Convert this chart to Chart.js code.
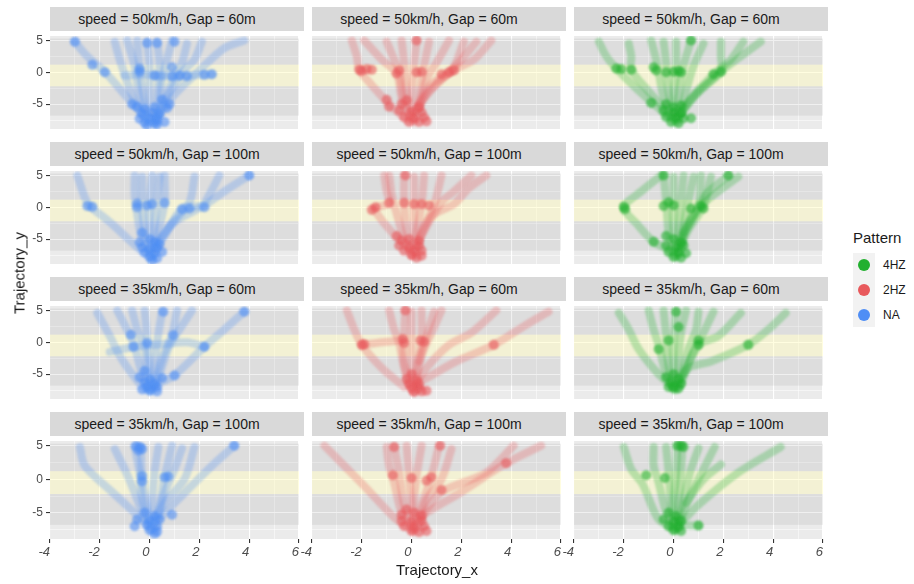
<!DOCTYPE html>
<html>
<head>
<meta charset="utf-8">
<script src="https://cdn.jsdelivr.net/npm/chart.js@4.4.1/dist/chart.umd.min.js"></script>
<style>
body { margin: 0; background: #fff; width: 914px; height: 584px; position: relative; overflow: hidden; font-family: 'Liberation Sans', Arial, sans-serif; }
canvas { position: absolute; }
.strip { position: absolute; height: 24px; background: #d9d9d9; color: #1a1a1a; font-size: 14px; line-height: 24px; text-align: center; box-sizing: border-box; padding-right: 20px; white-space: nowrap; }
.title { position: absolute; color: #1a1a1a; font-size: 15px; white-space: nowrap; }
.key { position: absolute; left: 853px; width: 22px; background: #f2f2f2; }
.dot { position: absolute; left: 5px; width: 12px; height: 12px; border-radius: 6px; }
.klab { position: absolute; left: 883px; font-size: 12px; color: #1a1a1a; }
</style>
</head>
<body>
<script>
// facets
const speeds = ['50km/h', '50km/h', '35km/h', '35km/h'];
const gaps = ['60m', '100m', '60m', '100m'];
const patterns = ['NA', '2HZ', '4HZ'];
const legendOrder = ['4HZ', '2HZ', 'NA'];

// axes
const xTickLabels = [-4, -2, 0, 2, 4, 6];
const xMinor = [-3, -1, 1, 3, 5];
const yTickLabels = [-5, 0, 5];
const yMinor = [-7.5, -2.5, 2.5];
const laneEdges = [5.3, 1.2, -2.2, -6.8];

// trajectories, [x, y] per vertex
const tracksNA_50_60 = [
  [[-3.0, 4.8], [-2.5, 2.5], [-1.8, 0.1], [-1.0, -3.5], [-0.3, -6.5], [0.0, -7.8]],
  [[-1.4, 4.8], [-1.2, 2.0], [-0.9, -1.5], [-0.5, -5.5], [-0.1, -7.5]],
  [[-0.9, 5.0], [-0.6, 1.0], [-0.4, -4.0], [-0.1, -7.2]],
  [[-0.5, 5.0], [-0.4, 0.5], [-0.2, -5.0], [0.0, -7.8]],
  [[-0.1, 4.8], [0.0, 0.6], [0.0, -5.0], [0.2, -7.6]],
  [[0.3, 4.8], [0.4, 1.0], [0.3, -4.5], [0.3, -7.8]],
  [[0.9, 5.0], [0.7, 2.0], [0.5, -1.0], [0.4, -5.5], [0.2, -7.5]],
  [[1.5, 4.5], [1.3, 1.5], [1.0, -0.5], [0.6, -4.5], [0.3, -7.0]],
  [[2.1, 4.8], [1.8, 2.0], [1.3, 0.0], [0.7, -4.0], [0.3, -7.2]],
  [[3.8, 5.0], [3.0, 3.8], [2.0, 0.3], [1.0, -3.5], [0.4, -6.5]],
  [[0.3, -0.5], [1.2, -0.6], [2.0, -0.4], [2.5, -0.3]],
  [[-1.0, -0.5], [-0.2, -0.4], [0.5, -0.6]]
];
const dotsNA_50_60 = [[-3.0, 4.8], [-1.8, 0.0], [-2.3, 1.2], [-0.4, 0.6], [-0.4, 0.1], [-0.1, 4.6], [0.3, 4.6], [1.0, 4.8], [0.9, 0.8], [0.9, -0.6], [1.2, -0.5], [1.5, -0.6], [2.2, -0.4], [2.5, -0.3], [0.2, -0.5], [-0.7, -5.0], [0.5, -4.3], [0.8, -5.0], [0.7, -5.6], [-0.5, -5.4], [-0.2, -5.8], [0.2, -5.5], [-0.3, -6.5], [0.1, -6.4], [0.4, -6.6], [-0.4, -7.3], [0.0, -7.2], [0.3, -7.4], [-0.2, -7.9], [0.2, -8.0], [0.6, -7.8], [-0.1, -8.3], [0.3, -8.2]];

const tracks2HZ_50_60 = [
  [[-2.4, 5.0], [-2.2, 2.5], [-2.1, 0.4], [-1.6, -2.0], [-0.9, -5.0], [-0.2, -7.5]],
  [[-1.9, 5.0], [-1.2, 2.0], [-0.6, -0.2], [-0.4, -4.0], [-0.1, -7.0]],
  [[-1.0, 4.8], [-0.7, 2.0], [-0.5, 0.2], [-0.3, -4.5], [0.0, -7.5]],
  [[-0.4, 5.0], [-0.3, 1.5], [-0.2, -3.0], [0.0, -7.0]],
  [[0.2, 5.0], [0.1, 1.0], [0.0, -4.0], [0.1, -7.8]],
  [[0.7, 4.8], [0.5, 1.0], [0.3, -4.0], [0.2, -7.3]],
  [[1.5, 5.0], [1.0, 1.5], [0.6, -1.0], [0.3, -5.5]],
  [[2.1, 4.8], [1.6, 0.2], [0.8, -1.8], [0.3, -5.0]],
  [[2.6, 4.8], [2.0, 2.0], [1.5, 0.0], [0.7, -3.0], [0.2, -6.0]],
  [[3.2, 5.0], [2.5, 2.0], [1.5, -0.1], [0.5, -4.0], [0.1, -6.5]]
];
const dots2HZ_50_60 = [[-2.1, 0.4], [-2.0, 0.2], [-1.8, 0.5], [-1.6, 0.4], [-0.6, -0.2], [-0.5, 0.3], [0.2, 0.0], [0.4, 0.1], [1.2, -0.3], [1.5, 0.0], [1.7, 0.3], [0.2, 5.0], [-1.0, -4.3], [-0.9, -5.4], [-0.4, -5.0], [-0.2, -4.4], [0.3, -5.5], [-0.5, -6.0], [0.0, -6.2], [0.4, -6.3], [-0.3, -7.0], [0.1, -7.2], [0.5, -7.1], [-0.1, -7.8], [0.3, -7.8], [0.6, -7.7]];

const tracks4HZ_50_60 = [
  [[-3.0, 4.8], [-2.7, 2.5], [-2.3, 0.6], [-1.5, -2.5], [-0.5, -6.0], [0.0, -7.5]],
  [[-1.8, 4.5], [-1.7, 2.5], [-1.7, 0.4], [-1.0, -3.0], [-0.2, -6.5]],
  [[-0.9, 5.0], [-0.7, 2.0], [-0.6, 0.0], [-0.4, -4.0], [-0.1, -7.0]],
  [[-0.4, 4.8], [-0.3, 1.5], [-0.2, -3.0], [0.0, -7.2]],
  [[0.1, 4.8], [0.1, 1.0], [0.0, -4.0], [0.1, -7.8]],
  [[0.7, 5.0], [0.4, 1.0], [0.2, -4.0], [0.2, -7.5]],
  [[1.2, 4.5], [0.8, 1.0], [0.5, -3.0], [0.3, -6.5]],
  [[1.9, 4.8], [1.9, 2.5], [1.9, 0.1], [1.0, -3.0], [0.3, -6.5]],
  [[2.8, 4.8], [2.3, 2.0], [1.7, 0.0], [0.7, -4.0], [0.2, -7.0]],
  [[3.5, 4.8], [2.7, 2.5], [1.9, 0.1], [0.9, -3.5], [0.3, -6.0]]
];
const dots4HZ_50_60 = [[-2.3, 0.6], [-2.1, 0.5], [-1.7, 0.4], [-0.8, 0.8], [-0.7, 0.3], [-0.3, 0.0], [0.0, 0.1], [0.2, 0.2], [0.3, 0.0], [1.6, -0.3], [1.9, 0.1], [0.7, 5.0], [-0.9, -4.8], [-0.3, -5.0], [0.0, -5.5], [0.3, -5.2], [-0.4, -6.0], [0.0, -6.3], [0.3, -6.4], [-0.3, -7.0], [0.1, -7.1], [0.4, -7.2], [0.7, -7.2], [-0.1, -7.8], [0.2, -8.0]];

const tracksNA_50_100 = [
  [[-2.9, 5.0], [-2.6, 1.5], [-2.4, 0.2], [-1.6, -2.3], [-0.4, -6.6], [0.1, -7.8]],
  [[-0.6, 5.0], [-0.6, 2.0], [-0.5, -1.0], [-0.3, -5.0], [0.0, -7.0]],
  [[-0.3, 4.8], [-0.3, 1.0], [-0.2, -4.0], [0.0, -7.5]],
  [[0.1, 5.0], [0.0, 1.0], [0.0, -4.0], [0.1, -7.8]],
  [[0.4, 4.8], [0.3, 1.5], [0.2, -3.0], [0.2, -7.0]],
  [[0.6, 5.0], [0.6, 0.8], [0.4, -3.0], [0.2, -6.5]],
  [[1.8, 4.8], [1.6, 0.8], [0.8, -3.0], [0.3, -6.0]],
  [[2.8, 5.0], [2.4, 2.0], [2.1, 0.3], [1.3, -0.2], [0.6, -4.5], [0.2, -6.5]],
  [[4.0, 5.0], [3.0, 2.5], [2.2, 0.3], [1.0, -2.3], [0.3, -5.5]]
];
const dotsNA_50_100 = [[-2.5, 0.2], [-2.3, 0.1], [-0.5, 0.6], [-0.5, 0.0], [-0.1, 0.3], [0.1, 0.5], [0.6, 0.7], [1.3, -0.3], [1.6, -0.2], [2.2, 0.0], [4.0, 5.0], [-0.3, -4.0], [0.0, -5.0], [-0.4, -5.5], [0.2, -5.5], [0.4, -5.8], [-0.3, -6.3], [0.0, -6.5], [0.3, -6.4], [-0.2, -7.1], [0.2, -7.2], [0.5, -7.0], [0.0, -7.8], [0.3, -8.0], [0.1, -8.3]];

const tracks2HZ_50_100 = [
  [[-1.5, -0.4], [-1.1, -2.5], [-0.6, -4.7], [-0.1, -6.5]],
  [[-1.1, 5.0], [-1.0, 2.5], [-0.9, 0.7], [-1.4, 0.0]],
  [[-0.9, 5.0], [-0.8, 2.0], [-0.6, -1.0], [-0.3, -5.0], [0.0, -7.5]],
  [[-0.3, 5.0], [-0.3, 1.0], [-0.2, -4.0], [0.0, -7.5]],
  [[0.1, 4.8], [0.1, 1.0], [0.1, -4.0], [0.2, -7.5]],
  [[0.5, 5.0], [0.4, 0.5], [0.2, -4.0], [0.1, -7.0]],
  [[1.2, 5.0], [0.9, 0.3], [0.5, -3.0], [0.2, -6.0]],
  [[2.4, 5.0], [1.7, 2.5], [1.2, 0.8], [0.6, -3.0], [0.2, -6.0]],
  [[3.0, 5.0], [2.3, 3.0], [1.7, 0.5], [0.8, -1.4], [0.3, -5.0]]
];
const dots2HZ_50_100 = [[-1.45, 0.0], [-1.6, -0.4], [-0.9, 0.7], [-0.3, 0.7], [0.1, 0.5], [0.4, 0.5], [0.7, 0.3], [-0.25, 5.0], [-0.6, -4.5], [-0.4, -5.2], [-0.1, -5.0], [0.3, -5.3], [-0.5, -6.0], [-0.1, -6.2], [0.3, -6.1], [-0.3, -6.8], [0.1, -6.9], [0.4, -6.8], [0.0, -7.5], [0.2, -7.9], [0.4, -7.6]];

const tracks4HZ_50_100 = [
  [[-0.5, 5.0], [-1.3, 2.5], [-2.0, 0.0], [-1.5, -2.5], [-0.8, -5.4], [0.0, -7.0]],
  [[-0.4, 5.0], [-0.3, 1.0], [-0.2, -4.0], [0.0, -7.5]],
  [[0.0, 4.8], [0.0, 1.5], [0.0, -4.0], [0.1, -7.8]],
  [[0.4, 5.0], [0.3, 1.0], [0.2, -4.0], [0.2, -7.5]],
  [[0.8, 4.8], [0.6, 1.0], [0.4, -3.0], [0.2, -7.0]],
  [[1.1, 5.0], [1.0, 0.5], [0.5, -3.0], [0.3, -6.5]],
  [[1.5, 4.8], [1.2, 0.2], [0.6, -3.5], [0.3, -6.0]],
  [[2.2, 5.0], [1.3, 2.0], [0.8, -1.4], [0.3, -5.0]],
  [[2.6, 4.8], [1.8, 2.5], [1.1, 0.2], [0.4, -4.0]]
];
const dots4HZ_50_100 = [[-2.0, 0.1], [-1.95, -0.3], [-0.8, -5.4], [-0.4, 0.2], [-0.2, 0.8], [0.0, 0.3], [0.7, -0.2], [1.1, 0.2], [1.2, -0.2], [2.2, 5.0], [-0.4, 5.0], [-0.3, -4.5], [0.0, -5.0], [0.3, -5.5], [-0.3, -6.0], [0.1, -6.3], [0.4, -6.0], [-0.2, -7.0], [0.2, -7.1], [0.5, -7.2], [0.0, -7.8], [0.3, -7.9]];

const tracksNA_35_60 = [
  [[-2.1, 4.6], [-1.6, 1.0], [-1.2, -2.1], [-0.7, -5.0], [-0.3, -6.9], [0.0, -7.8]],
  [[-1.3, 5.0], [-0.8, 1.2], [-0.6, -0.7], [-0.3, -5.0], [0.0, -7.5]],
  [[-0.7, 5.0], [-0.5, 2.0], [-0.2, -1.0], [-0.1, -5.0], [0.0, -7.0]],
  [[-0.2, 5.0], [-0.1, 0.8], [0.0, -4.0], [0.1, -7.6]],
  [[0.5, 4.8], [0.3, 0.0], [0.2, -4.0], [0.1, -7.2]],
  [[1.1, 5.0], [0.9, 1.2], [0.5, -2.5], [0.2, -6.5]],
  [[1.7, 5.0], [1.2, 2.0], [0.8, -0.5], [0.4, -5.0], [0.2, -7.0]],
  [[3.8, 4.8], [3.0, 2.0], [2.2, -0.7], [1.0, -5.2], [0.4, -6.4]],
  [[-1.6, -1.5], [-0.6, -0.7], [0.5, -0.3], [1.5, 0.0], [2.2, -0.7]]
];
const dotsNA_35_60 = [[-0.75, 1.2], [-0.65, -0.7], [-0.1, -0.1], [0.95, 1.1], [2.2, -0.7], [3.8, 4.8], [0.55, 4.8], [1.0, -5.2], [0.5, -5.6], [-0.2, -4.5], [-0.4, -5.5], [0.0, -5.8], [-0.2, -6.3], [0.2, -6.5], [-0.1, -7.0], [0.3, -7.0], [0.0, -7.5], [0.3, -7.7], [-0.3, -7.4]];

const tracks2HZ_35_60 = [
  [[-2.6, 5.0], [-2.3, 2.0], [-2.0, -0.4], [-1.2, -4.0], [-0.3, -7.0]],
  [[-2.0, -0.4], [-1.2, 0.0], [-0.4, 0.3]],
  [[-0.9, 5.0], [-0.7, 2.0], [-0.5, 0.0], [-0.3, -4.0], [0.0, -7.5]],
  [[-0.25, 5.0], [-0.3, 1.5], [-0.3, -3.0], [0.0, -7.5]],
  [[0.0, 4.8], [0.0, 1.0], [0.0, -4.0], [0.1, -7.8]],
  [[0.4, 5.0], [0.4, 0.3], [0.2, -4.0], [0.2, -7.5]],
  [[1.2, 5.0], [0.8, 1.5], [0.4, -2.0], [0.2, -6.5]],
  [[0.9, 4.8], [0.6, 1.0], [0.3, -3.0]],
  [[3.4, 5.0], [2.4, 1.5], [1.5, -0.4], [0.6, -4.0], [0.2, -6.5]],
  [[5.5, 4.8], [4.5, 2.5], [3.3, -0.4], [1.8, -3.0], [0.7, -5.4], [0.2, -6.5]]
];
const dots2HZ_35_60 = [[-2.0, -0.4], [-1.9, -0.3], [-0.35, 0.5], [-0.3, -0.1], [0.35, 0.3], [0.5, 0.1], [3.3, -0.4], [-0.25, 5.0], [0.0, -5.0], [-0.2, -5.8], [0.2, -6.0], [-0.1, -6.5], [0.3, -6.6], [0.0, -7.1], [0.3, -7.2], [0.1, -7.8], [0.4, -7.7], [0.6, -7.6]];

const tracks4HZ_35_60 = [
  [[-2.2, 4.6], [-1.8, 2.0], [-1.4, -1.1], [-0.6, -5.0], [0.0, -7.0]],
  [[-1.0, 5.0], [-0.8, 2.0], [-0.6, -0.5], [-0.3, -5.0], [0.0, -7.5]],
  [[-0.4, 5.0], [-0.3, 1.0], [-0.2, -4.0], [0.0, -7.2]],
  [[0.1, 4.8], [0.0, 0.5], [0.0, -4.0], [0.1, -7.5]],
  [[0.5, 5.0], [0.3, 1.5], [0.2, -3.0], [0.2, -7.0]],
  [[1.0, 4.8], [0.9, 2.0], [0.6, -1.0], [0.3, -6.0]],
  [[1.6, 4.8], [1.2, 1.5], [0.7, -2.5], [0.3, -6.5]],
  [[2.7, 4.6], [1.8, 1.0], [1.0, -0.4], [0.4, -5.0]],
  [[4.5, 4.6], [3.8, 2.0], [3.0, -0.4], [1.5, -3.0], [0.6, -4.0], [0.1, -6.5]]
];
const dots4HZ_35_60 = [[-0.6, -1.1], [-0.2, 0.3], [0.2, 2.4], [1.0, 0.3], [1.0, -0.4], [3.0, -0.4], [0.1, 4.8], [0.0, -5.0], [-0.3, -5.5], [0.2, -5.8], [-0.1, -6.3], [0.3, -6.5], [0.0, -7.0], [0.2, -7.2], [-0.2, -7.0]];

const tracksNA_35_100 = [
  [[-2.8, 4.8], [-2.6, 2.0], [-1.5, -1.9], [-0.4, -5.7], [0.1, -7.6]],
  [[-1.4, 4.5], [-1.0, 1.5], [-0.6, -2.0], [-0.2, -6.0]],
  [[-0.6, 4.9], [-0.4, 1.0], [-0.3, -3.0], [0.0, -7.0]],
  [[-0.35, 4.8], [-0.3, 0.0], [-0.1, -4.0], [0.1, -7.5]],
  [[0.35, 4.8], [0.2, 1.0], [0.1, -4.0], [0.2, -7.2]],
  [[0.9, 5.0], [0.6, 0.3], [0.4, -4.0], [0.2, -6.5]],
  [[1.3, 4.6], [1.0, 1.5], [0.6, -2.0], [0.3, -6.0]],
  [[1.8, 4.8], [1.4, 0.0], [0.6, -3.5], [0.2, -6.5]],
  [[3.4, 5.0], [2.5, 2.0], [1.2, -2.8], [0.5, -5.5]]
];
const dotsNA_35_100 = [[-0.55, 4.9], [-0.4, 4.8], [-0.3, 4.5], [-0.45, 4.3], [0.6, 0.3], [0.75, 0.4], [-0.3, 0.5], [-0.3, -0.3], [3.4, 5.0], [0.9, -5.3], [-0.2, -5.0], [0.2, -5.5], [-0.5, -6.0], [0.0, -6.2], [0.4, -6.0], [-0.6, -7.0], [-0.1, -6.8], [0.3, -7.0], [0.0, -7.6], [0.3, -7.8], [0.2, -8.1]];

const tracks2HZ_35_100 = [
  [[-3.5, 5.0], [-2.7, 2.0], [-1.8, -1.4], [-0.7, -5.7], [0.0, -7.5]],
  [[-1.0, 4.8], [-0.9, 2.0], [-0.7, -0.5], [-0.4, -5.0], [0.0, -7.0]],
  [[-0.7, 4.8], [-0.5, 1.0], [-0.3, -4.0], [0.0, -7.5]],
  [[-0.2, 5.0], [-0.1, 0.5], [0.0, -4.0], [0.1, -7.8]],
  [[0.4, 5.0], [0.2, 0.5], [0.1, -4.0], [0.2, -7.5]],
  [[1.1, 5.0], [0.8, 0.5], [0.4, -4.0], [0.3, -7.0]],
  [[1.6, 4.5], [1.2, 0.0], [0.6, -3.0], [0.3, -6.0]],
  [[4.1, 5.0], [3.0, 1.0], [1.2, -1.9], [0.4, -5.5]],
  [[5.2, 5.0], [3.8, 2.4], [2.0, -1.9], [0.6, -5.0], [0.2, -6.5]]
];
const dots2HZ_35_100 = [[-0.7, 4.8], [1.15, 5.0], [3.8, 2.4], [-0.75, 0.6], [0.0, 0.2], [0.8, 0.3], [0.6, -0.2], [1.2, -1.6], [-0.2, -4.5], [-0.4, -5.3], [0.1, -5.0], [0.4, -5.4], [-0.4, -6.2], [0.0, -6.3], [0.4, -6.2], [-0.3, -7.0], [0.1, -7.1], [0.5, -7.0], [0.0, -7.7], [0.3, -7.9], [0.6, -7.7]];

const tracks4HZ_35_100 = [
  [[-2.0, 4.8], [-1.7, 1.5], [-1.25, -0.7], [-0.6, -6.0], [0.0, -7.2]],
  [[-0.8, 4.8], [-0.8, 2.0], [-0.6, -0.5], [-0.3, -5.0], [0.0, -7.5]],
  [[-0.3, 4.8], [-0.2, 1.0], [-0.1, -4.0], [0.0, -7.0]],
  [[0.15, 5.0], [0.1, 1.0], [0.0, -4.0], [0.1, -7.6]],
  [[0.35, 5.0], [0.3, 1.0], [0.2, -4.0], [0.2, -7.0]],
  [[1.0, 4.6], [0.7, 1.5], [0.4, -3.0], [0.2, -6.5]],
  [[1.65, 4.8], [1.2, 1.5], [0.6, -3.0], [0.3, -6.0]],
  [[1.9, 2.2], [1.2, 0.0], [0.5, -3.5]],
  [[4.3, 4.8], [2.6, 1.0], [1.0, -3.8], [0.3, -6.5]],
  [[0.3, -6.8], [0.7, -6.9], [1.0, -6.9]]
];
const dots4HZ_35_100 = [[-1.1, 0.6], [-0.35, 0.2], [0.3, 5.0], [0.15, 5.0], [0.4, 4.8], [1.0, -6.9], [-0.2, -5.0], [0.1, -5.5], [-0.4, -6.0], [0.0, -6.3], [0.3, -6.2], [-0.2, -7.0], [0.2, -7.1], [0.0, -7.6], [0.3, -7.7]];

const panelTracks = [
  [tracksNA_50_60, tracks2HZ_50_60, tracks4HZ_50_60],
  [tracksNA_50_100, tracks2HZ_50_100, tracks4HZ_50_100],
  [tracksNA_35_60, tracks2HZ_35_60, tracks4HZ_35_60],
  [tracksNA_35_100, tracks2HZ_35_100, tracks4HZ_35_100]
];
const panelDots = [
  [dotsNA_50_60, dots2HZ_50_60, dots4HZ_50_60],
  [dotsNA_50_100, dots2HZ_50_100, dots4HZ_50_100],
  [dotsNA_35_60, dots2HZ_35_60, dots4HZ_35_60],
  [dotsNA_35_100, dots2HZ_35_100, dots4HZ_35_100]
];

const patternColors = { 'NA': [79, 142, 245], '2HZ': [232, 89, 92], '4HZ': [34, 176, 47] };
const rgba = (c, a) => `rgba(${c[0]},${c[1]},${c[2]},${a})`;

// layout
const plotLefts = [50, 312, 574];
const plotW = 254;
const stripTops = [7, 142, 277, 412];
const stripH = 24;
const plotH = 103;
const yAxisW = 50;
const xAxisH = 30;
const labelPad = 14;

const xTicks = [...xTickLabels, ...xMinor].sort((a, b) => a - b);
const yTicks = [...yTickLabels, ...yMinor].sort((a, b) => a - b);
const tickFont = { family: "'Liberation Sans', Arial, sans-serif", size: 12 };

const panelBg = {
  id: 'panelBg',
  beforeDraw(chart) {
    const { ctx, chartArea: a } = chart;
    ctx.save();
    ctx.fillStyle = '#ebebeb';
    ctx.fillRect(a.left, a.top, a.width, a.height);
    ctx.restore();
  },
  beforeDatasetsDraw(chart) {
    const { ctx, chartArea: a, scales: { y } } = chart;
    const fills = ['rgba(0,0,0,0.06)', 'rgba(255,250,180,0.42)', 'rgba(0,0,0,0.06)'];
    ctx.save();
    for (let i = 0; i < laneEdges.length - 1; i++) {
      const t = y.getPixelForValue(laneEdges[i]);
      const b = y.getPixelForValue(laneEdges[i + 1]);
      ctx.fillStyle = fills[i];
      ctx.fillRect(a.left, t, a.width, b - t);
    }
    ctx.restore();
    // soft trails, like the blurred point clouds
    ctx.filter = 'blur(0.8px)';
  },
  afterDatasetsDraw(chart) {
    chart.ctx.filter = 'none';
  }
};

function makePanel(r, c) {
  const first = c === 0;
  const bottom = r === 3;
  const col = patternColors[patterns[c]];

  const strip = document.createElement('div');
  strip.className = 'strip';
  strip.style.left = plotLefts[c] + 'px';
  strip.style.top = stripTops[r] + 'px';
  strip.style.width = plotW + 'px';
  strip.textContent = `speed = ${speeds[r]}, Gap = ${gaps[r]}`;
  document.body.appendChild(strip);

  const canvas = document.createElement('canvas');
  const padL = first ? yAxisW : labelPad;
  canvas.width = padL + plotW;
  canvas.height = plotH + (bottom ? xAxisH : 0);
  canvas.style.left = (plotLefts[c] - padL) + 'px';
  canvas.style.top = (stripTops[r] + stripH) + 'px';
  document.body.appendChild(canvas);

  const datasets = panelTracks[r][c].map(t => ({
    data: t.map(([x, y]) => ({ x, y })),
    showLine: true,
    tension: 0.3,
    borderColor: rgba(col, 0.28),
    borderWidth: 8,
    borderCapStyle: 'round',
    borderJoinStyle: 'round',
    pointRadius: 0
  }));
  datasets.push({
    data: panelDots[r][c].map(([x, y]) => ({ x, y })),
    showLine: false,
    pointRadius: 5,
    pointBorderWidth: 0,
    pointBackgroundColor: rgba(col, 0.6)
  });

  new Chart(canvas, {
    type: 'scatter',
    data: { datasets },
    options: {
      responsive: false,
      animation: false,
      devicePixelRatio: 1,
      events: [],
      layout: { padding: { left: first ? 0 : labelPad, right: 0, top: 0, bottom: 0 } },
      plugins: { legend: { display: false }, tooltip: { enabled: false } },
      scales: {
        x: {
          type: 'linear',
          min: -4,
          max: 6,
          afterBuildTicks: s => { s.ticks = xTicks.map(v => ({ value: v })); },
          afterFit: s => { s.height = bottom ? xAxisH : 0; s.paddingLeft = 0; s.paddingRight = 0; },
          border: { display: false },
          grid: {
            color: '#ffffff',
            lineWidth: ctx => (ctx.tick && xTickLabels.includes(ctx.tick.value)) ? 1.1 : 0.5,
            drawTicks: bottom,
            tickLength: 4,
            tickColor: ctx => (ctx.tick && xTickLabels.includes(ctx.tick.value)) ? '#333333' : 'rgba(0,0,0,0)'
          },
          ticks: {
            display: bottom,
            autoSkip: false,
            maxRotation: 0,
            minRotation: 0,
            align: 'end',
            padding: 2,
            color: '#4d4d4d',
            font: { ...tickFont, size: 13, style: 'italic' },
            callback: v => xTickLabels.includes(v) ? String(v) : ''
          }
        },
        y: {
          type: 'linear',
          min: -8.9,
          max: 5.7,
          afterBuildTicks: s => { s.ticks = yTicks.map(v => ({ value: v })); },
          afterFit: s => { s.width = first ? yAxisW : 0; s.paddingTop = 0; s.paddingBottom = 0; },
          border: { display: false },
          grid: {
            color: '#ffffff',
            lineWidth: ctx => (ctx.tick && yTickLabels.includes(ctx.tick.value)) ? 1.1 : 0.5,
            drawTicks: first,
            tickLength: 4,
            tickColor: ctx => (ctx.tick && yTickLabels.includes(ctx.tick.value)) ? '#333333' : 'rgba(0,0,0,0)'
          },
          ticks: {
            display: first,
            autoSkip: false,
            padding: 3,
            color: '#4d4d4d',
            font: tickFont,
            callback: v => yTickLabels.includes(v) ? String(v) : ''
          }
        }
      }
    },
    plugins: [panelBg]
  });
}

for (let r = 0; r < 4; r++) {
  for (let c = 0; c < 3; c++) makePanel(r, c);
}

// axis titles
const xt = document.createElement('div');
xt.className = 'title';
xt.textContent = 'Trajectory_x';
xt.style.left = '396px';
xt.style.top = '561px';
document.body.appendChild(xt);

const yt = document.createElement('div');
yt.className = 'title';
yt.textContent = 'Trajectory_y';
yt.style.left = '19px';
yt.style.top = '273px';
yt.style.transform = 'translate(-50%, -50%) rotate(-90deg)';
document.body.appendChild(yt);

// legend
const lt = document.createElement('div');
lt.className = 'title';
lt.textContent = 'Pattern';
lt.style.left = '853px';
lt.style.top = '229px';
document.body.appendChild(lt);

const keyTop = 253;
const keyH = 24.7;
const keyBox = document.createElement('div');
keyBox.className = 'key';
keyBox.style.top = keyTop + 'px';
keyBox.style.height = (keyH * legendOrder.length) + 'px';
document.body.appendChild(keyBox);
legendOrder.forEach((p, i) => {
  const d = document.createElement('div');
  d.className = 'dot';
  d.style.top = (keyH * i + keyH / 2 - 6) + 'px';
  d.style.background = rgba(patternColors[p], 1);
  keyBox.appendChild(d);
  const l = document.createElement('div');
  l.className = 'klab';
  l.textContent = p;
  l.style.top = (keyTop + keyH * i + keyH / 2 - 7) + 'px';
  document.body.appendChild(l);
});
</script>
</body>
</html>
